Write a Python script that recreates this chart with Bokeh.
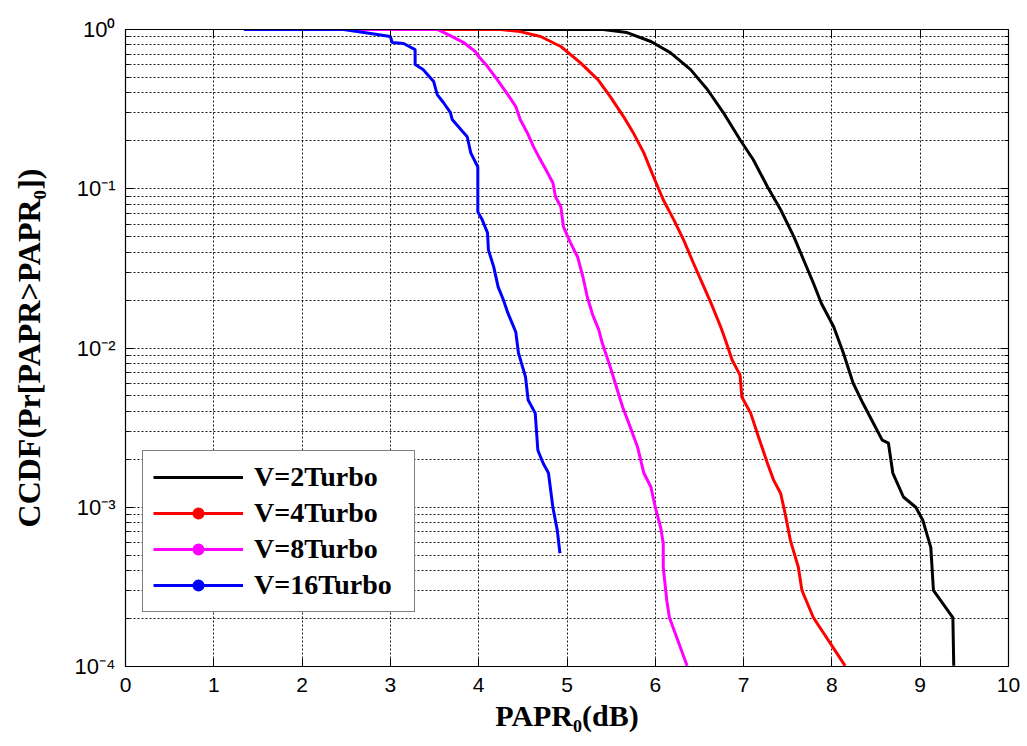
from bokeh.plotting import figure
from bokeh.models import (FixedTicker, LinearAxis, LogAxis, Legend, LegendItem,
                          CustomJSTickFormatter, Range1d, ColumnDataSource)
from bokeh.embed import file_html
from bokeh.resources import INLINE

# ---------------- data ----------------
x_v2 = [4.30, 5.41, 5.68, 5.95, 6.17, 6.40, 6.59, 6.77, 6.96, 7.11, 7.27, 7.42, 7.57, 7.68,
        7.79, 7.88, 8.02, 8.13, 8.24, 8.35, 8.47, 8.57, 8.64, 8.69, 8.81, 8.95, 9.03, 9.12,
        9.15, 9.37, 9.38]
y_v2 = [1.0, 1.0, 0.957, 0.841, 0.716, 0.560, 0.420, 0.301, 0.203, 0.152, 0.103, 0.0738,
        0.0499, 0.0357, 0.0256, 0.0191, 0.0136, 0.00931, 0.00603, 0.00451, 0.00337, 0.00264,
        0.00253, 0.00164, 0.00116, 0.00100, 0.000828, 0.000560, 0.000301, 0.000203, 0.000101]

x_v4 = [3.40, 4.25, 4.47, 4.70, 4.93, 5.15, 5.35, 5.49, 5.64, 5.75, 5.87, 5.98, 6.09, 6.21,
        6.32, 6.43, 6.55, 6.63, 6.74, 6.80, 6.87, 6.96, 6.98, 7.08, 7.17, 7.27, 7.34, 7.42,
        7.47, 7.53, 7.62, 7.66, 7.79, 8.15]
y_v4 = [1.0, 1.0, 0.970, 0.904, 0.782, 0.619, 0.485, 0.379, 0.284, 0.225, 0.168, 0.119,
        0.0853, 0.0638, 0.0478, 0.0343, 0.0242, 0.0192, 0.0136, 0.0110, 0.00841, 0.00676,
        0.00492, 0.00390, 0.00275, 0.00189, 0.00148, 0.00122, 0.000916, 0.000619, 0.000420,
        0.000301, 0.000203, 0.000101]

x_v8 = [2.45, 3.53, 3.65, 3.83, 3.96, 4.00, 4.10, 4.21, 4.33, 4.42, 4.47, 4.55, 4.62, 4.68,
        4.76, 4.84, 4.87, 4.93, 4.96, 5.04, 5.12, 5.18, 5.23, 5.29, 5.36, 5.40, 5.49, 5.57,
        5.63, 5.70, 5.80, 5.87, 5.95, 6.00, 6.06, 6.09, 6.09, 6.13, 6.16, 6.36]
y_v8 = [1.0, 1.0, 0.931, 0.828, 0.728, 0.676, 0.585, 0.485, 0.390, 0.328, 0.272, 0.225,
        0.184, 0.159, 0.132, 0.109, 0.0891, 0.0771, 0.0577, 0.0457, 0.0373, 0.0280, 0.0209,
        0.0162, 0.0130, 0.0107, 0.00760, 0.00545, 0.00426, 0.00337, 0.00238, 0.00164,
        0.00134, 0.00100, 0.000748, 0.000594, 0.000420, 0.000260, 0.000203, 0.000101]

x_v16 = [1.34, 2.47, 2.70, 3.00, 3.02, 3.15, 3.28, 3.28, 3.37, 3.49, 3.53, 3.60, 3.68, 3.70,
         3.82, 3.87, 3.91, 3.99, 3.99, 4.04, 4.10, 4.11, 4.17, 4.22, 4.28, 4.33, 4.42, 4.45,
         4.53, 4.56, 4.64, 4.67, 4.73, 4.79, 4.84, 4.89, 4.92]
y_v16 = [1.0, 1.0, 0.957, 0.904, 0.828, 0.817, 0.748, 0.603, 0.560, 0.471, 0.390, 0.348,
         0.301, 0.272, 0.228, 0.212, 0.168, 0.137, 0.0716, 0.0638, 0.0528, 0.0413, 0.0323,
         0.0242, 0.0200, 0.0166, 0.0126, 0.00931, 0.00658, 0.00471, 0.00390, 0.00228,
         0.00189, 0.00164, 0.00100, 0.000716, 0.000514]

labels = ["V=2Turbo", "V=4Turbo", "V=8Turbo", "V=16Turbo"]
colors = ["black", "red", "magenta", "blue"]
x_ticks = [0, 1, 2, 3, 4, 5, 6, 7, 8, 9, 10]
y_ticks = [1e-4, 1e-3, 1e-2, 1e-1, 1e0]
y_minor = [m * 10.0 ** e for e in range(-4, 0) for m in range(2, 10)]

# ---------------- figure ----------------
p = figure(width=1027, height=746, y_axis_type="log",
           x_range=Range1d(0, 10), y_range=Range1d(1e-4, 1),
           output_backend="svg", toolbar_location=None,
           min_border_left=125, min_border_right=19, min_border_top=29, min_border_bottom=80)
p.background_fill_color = "white"
p.border_fill_color = "white"
p.outline_line_color = "black"
p.outline_line_width = 1.2

sup = ("const sup = {'0':'\u2070','1':'\u00b9','2':'\u00b2','3':'\u00b3','4':'\u2074',"
       "'5':'\u2075','6':'\u2076','7':'\u2077','8':'\u2078','9':'\u2079','-':'\u207b'};"
       "const e = Math.round(Math.log10(tick));"
       "return '10' + String(e).split('').map(c => sup[c]).join('');")

# bottom x axis
xa = p.xaxis[0]
xa.ticker = FixedTicker(ticks=x_ticks)
xa.axis_label = "PAPR\u2080(dB)"
xa.axis_label_text_font = "Liberation Serif"
xa.axis_label_text_font_style = "bold"
xa.axis_label_text_font_size = "30px"
xa.axis_label_text_color = "black"
xa.axis_label_standoff = 4
xa.major_label_text_font = "Liberation Sans"
xa.major_label_text_font_size = "21px"
xa.major_label_text_color = "black"
xa.major_label_standoff = 11
xa.major_tick_in = 8
xa.major_tick_out = 0
xa.minor_tick_in = 0
xa.minor_tick_out = 0
xa.axis_line_color = "black"
xa.major_tick_line_color = "black"

# left y axis
ya = p.yaxis[0]
ya.ticker = FixedTicker(ticks=y_ticks, minor_ticks=y_minor)
ya.formatter = CustomJSTickFormatter(code=sup)
ya.axis_label = "CCDF(Pr[PAPR>PAPR\u2080])"
ya.axis_label_text_font = "Liberation Serif"
ya.axis_label_text_font_style = "bold"
ya.axis_label_text_font_size = "32px"
ya.axis_label_text_color = "black"
ya.axis_label_standoff = 25
ya.major_label_text_font = "Liberation Sans"
ya.major_label_text_font_size = "22px"
ya.major_label_text_color = "black"
ya.major_label_standoff = 10
ya.major_tick_in = 8
ya.major_tick_out = 0
ya.minor_tick_in = 4
ya.minor_tick_out = 0
ya.axis_line_color = "black"

# top and right axes (ticks only, no labels)
blank = CustomJSTickFormatter(code="return '';")
top = LinearAxis(ticker=FixedTicker(ticks=x_ticks), formatter=blank,
                 major_tick_in=8, major_tick_out=0, minor_tick_in=0, minor_tick_out=0,
                 axis_line_color="black", major_label_standoff=0)
p.add_layout(top, "above")
right = LogAxis(ticker=FixedTicker(ticks=y_ticks, minor_ticks=y_minor), formatter=blank,
                major_tick_in=8, major_tick_out=0, minor_tick_in=4, minor_tick_out=0,
                axis_line_color="black", major_label_standoff=0)
p.add_layout(right, "right")

# grids
p.xgrid.ticker = FixedTicker(ticks=x_ticks)
p.xgrid.grid_line_color = "black"
p.xgrid.grid_line_dash = "2 2"
p.xgrid.grid_line_width = 1
p.xgrid.grid_line_alpha = 0.9
p.ygrid.ticker = FixedTicker(ticks=y_ticks, minor_ticks=y_minor)
p.ygrid.grid_line_color = "black"
p.ygrid.grid_line_dash = "2 2"
p.ygrid.grid_line_alpha = 0.9
p.ygrid.minor_grid_line_color = "black"
p.ygrid.minor_grid_line_dash = "2 2"
p.ygrid.minor_grid_line_alpha = 0.9

# curves
series = [(x_v2, y_v2), (x_v4, y_v4), (x_v8, y_v8), (x_v16, y_v16)]
items = []
for i, ((xs, ys), lab, col) in enumerate(zip(series, labels, colors)):
    src = ColumnDataSource(data=dict(x=xs, y=ys))
    r = p.line("x", "y", source=src, line_color=col, line_width=3)
    rends = [r]
    if i > 0:
        # zero-size markers: only the legend symbol (sized by the legend) is visible
        m = p.scatter("x", "y", source=src, marker="circle", size=0,
                      fill_color=col, line_alpha=0)
        rends.append(m)
    items.append(LegendItem(label=lab, renderers=rends, index=0))

legend = Legend(items=items, location=(17, 54))
legend.label_text_font = "Liberation Serif"
legend.label_text_font_style = "bold"
legend.label_text_font_size = "28px"
legend.label_text_color = "black"
legend.glyph_width = 90
legend.glyph_height = 30
legend.label_height = 30
legend.label_width = 150
legend.label_standoff = 11
legend.spacing = 4
legend.padding = 10
legend.margin = 0
legend.border_line_color = "black"
legend.border_line_width = 1.5
legend.background_fill_color = "white"
legend.background_fill_alpha = 1.0
p.add_layout(legend, "center")

open("out.html", "w").write(file_html(p, INLINE))
